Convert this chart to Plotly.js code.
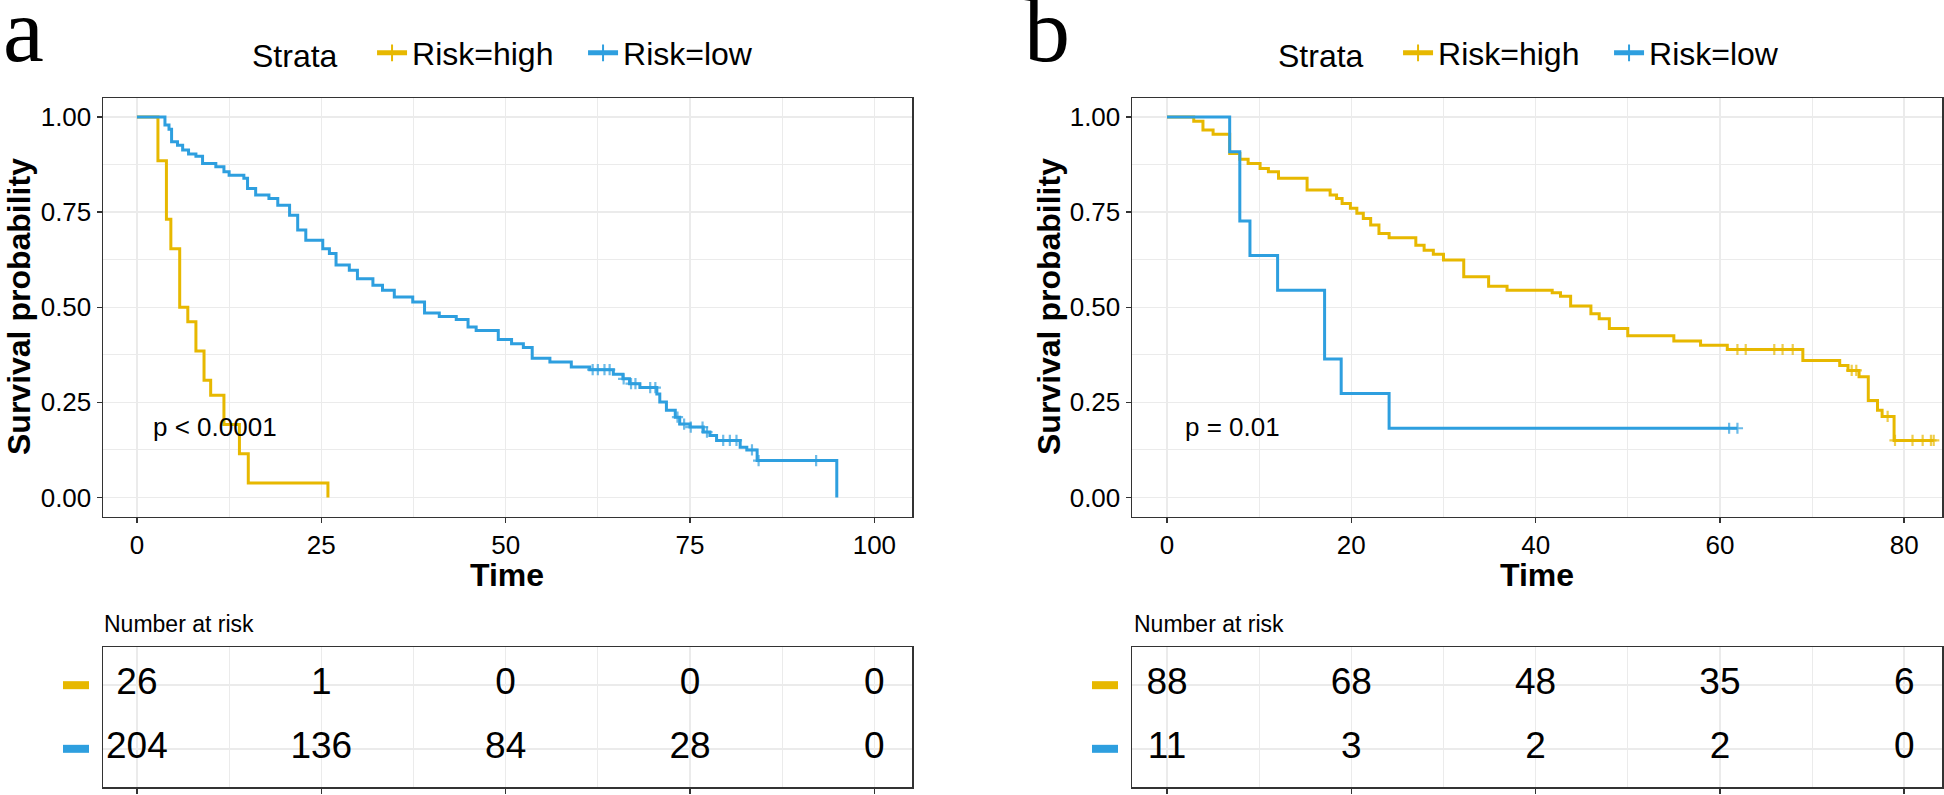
<!DOCTYPE html>
<html><head><meta charset="utf-8">
<script src="https://cdn.plot.ly/plotly-3.0.1.min.js"></script>
<style>html,body{margin:0;padding:0;background:#fff}#chart{width:1944px;height:795px}</style>
</head><body><div id="chart"></div>
<script>
// ---------- Panel a data ----------
const aHighTimes = [2.85, 4.0, 4.6, 5.8, 6.9, 8.0, 9.1, 10.0, 11.8, 13.9, 15.1, 25.9];
const aHighSurv  = [0.885, 0.731, 0.654, 0.500, 0.462, 0.385, 0.308, 0.269, 0.192, 0.115, 0.038, 0.0];
const aHighCens  = [];

const aLowTimes = [3.8, 4.35, 4.7, 5.5, 6.2, 7.0, 8.0, 8.9, 10.7, 11.8, 12.5, 14.5, 15.0, 16.1, 17.9, 19.1, 20.7, 21.8, 22.9, 25.2, 26.1, 27.0, 28.8, 29.9, 32.0, 33.3, 34.9, 37.4, 39.0, 41.0, 43.3, 44.9, 46.0, 49.0, 50.8, 52.4, 53.6, 56.0, 58.9, 61.4, 64.6, 65.9, 66.8, 68.2, 70.5, 70.9, 71.8, 73.0, 73.6, 75.0, 76.8, 77.7, 78.6, 81.8, 82.7, 84.1, 94.9];
const aLowSurv  = [0.979, 0.968, 0.935, 0.926, 0.913, 0.903, 0.897, 0.878, 0.869, 0.856, 0.847, 0.839, 0.812, 0.795, 0.786, 0.768, 0.742, 0.703, 0.676, 0.654, 0.641, 0.611, 0.597, 0.575, 0.558, 0.545, 0.527, 0.514, 0.485, 0.476, 0.468, 0.448, 0.439, 0.415, 0.404, 0.394, 0.366, 0.356, 0.343, 0.336, 0.324, 0.312, 0.299, 0.289, 0.272, 0.251, 0.229, 0.211, 0.193, 0.185, 0.172, 0.163, 0.150, 0.132, 0.125, 0.097, 0.0];
const aLowCens  = [61.8, 62.5, 63.4, 64.1, 66.0, 67.0, 67.6, 69.6, 70.3, 73.3, 74.2, 75.1, 76.7, 77.3, 79.5, 80.4, 81.3, 83.4, 84.3, 92.1];

const aRiskTimes = [0, 25, 50, 75, 100];
const aRiskHigh  = [26, 1, 0, 0, 0];
const aRiskLow   = [204, 136, 84, 28, 0];

// ---------- Panel b data ----------
const bHighTimes = [2.9, 3.9, 5.0, 6.8, 7.9, 8.8, 10.1, 11.0, 12.1, 15.2, 17.7, 18.4, 19.0, 19.9, 20.6, 21.3, 22.1, 23.0, 24.1, 27.0, 27.9, 28.9, 30.0, 32.2, 34.9, 36.9, 41.8, 42.7, 43.8, 46.0, 46.9, 48.0, 50.0, 55.0, 57.9, 60.8, 69.0, 73.0, 73.9, 75.1, 76.1, 77.1, 77.6, 78.9];
const bHighSurv  = [0.989, 0.966, 0.955, 0.904, 0.889, 0.878, 0.865, 0.856, 0.839, 0.808, 0.795, 0.786, 0.773, 0.760, 0.747, 0.733, 0.716, 0.694, 0.683, 0.663, 0.650, 0.639, 0.624, 0.580, 0.555, 0.545, 0.538, 0.529, 0.503, 0.483, 0.470, 0.444, 0.425, 0.411, 0.400, 0.389, 0.360, 0.347, 0.334, 0.317, 0.255, 0.229, 0.213, 0.150];
const bHighCens  = [61.9, 62.8, 65.9, 66.8, 67.9, 74.3, 74.8, 78.2, 79.0, 80.9, 82.0, 82.9, 83.2];

const bLowTimes = [6.8, 7.9, 9.0, 12.0, 17.1, 18.9, 24.1];
const bLowSurv  = [0.909, 0.727, 0.636, 0.545, 0.364, 0.273, 0.182];
const bLowCens  = [61.0, 61.9];

const bRiskTimes = [0, 20, 40, 60, 80];
const bRiskHigh  = [88, 68, 48, 35, 6];
const bRiskLow   = [11, 3, 2, 2, 0];

const strataNames = ['Risk=high', 'Risk=low'];
const COL_HIGH = '#E7B800';
const COL_LOW = '#2E9FDF';

// Build a Kaplan-Meier step path including censor points (shown as "+")
function kmPath(T, S, C) {
  const pts = [{t: 0, s: 1, c: false}];
  T.forEach((t, i) => pts.push({t: t, s: S[i], c: false}));
  C.forEach(c => {
    let s = 1;
    T.forEach((t, i) => { if (t <= c) s = S[i]; });
    pts.push({t: c, s: s, c: true});
  });
  pts.sort((a, b) => a.t - b.t);
  return {x: pts.map(p => p.t), y: pts.map(p => p.s), size: pts.map(p => p.c ? 8 : 0)};
}

function kmTrace(T, S, C, name, color, xa, ya) {
  const p = kmPath(T, S, C);
  return {
    type: 'scatter', mode: 'lines+markers', name: name, showlegend: false,
    x: p.x, y: p.y, xaxis: xa, yaxis: ya,
    line: {shape: 'hv', color: color, width: 3},
    marker: {symbol: 'cross-thin', size: p.size, color: color, line: {color: color, width: 2.2}},
    hoverinfo: 'x+y'
  };
}
// legend entry (no data points of its own)
function legendTrace(name, color, xa, ya, legend) {
  return {
    type: 'scatter', mode: 'lines+markers', name: name, x: [null], y: [null],
    xaxis: xa, yaxis: ya, legend: legend, showlegend: true,
    line: {color: color, width: 3},
    marker: {symbol: 'cross-thin', size: 9, color: color, line: {color: color, width: 2.2}}
  };
}

function riskTrace(times, vals, row, xa, ya) {
  return {
    type: 'scatter', mode: 'text', x: times, y: times.map(() => row),
    text: vals.map(String), xaxis: xa, yaxis: ya, showlegend: false,
    textposition: 'middle center', textfont: {size: 37, color: '#000'},
    cliponaxis: false, hoverinfo: 'skip'
  };
}

const data = [
  kmTrace(aHighTimes, aHighSurv, aHighCens, strataNames[0], COL_HIGH, 'x', 'y'),
  kmTrace(aLowTimes, aLowSurv, aLowCens, strataNames[1], COL_LOW, 'x', 'y'),
  kmTrace(bHighTimes, bHighSurv, bHighCens, strataNames[0], COL_HIGH, 'x2', 'y2'),
  kmTrace(bLowTimes, bLowSurv, bLowCens, strataNames[1], COL_LOW, 'x2', 'y2'),
  legendTrace(strataNames[0], COL_HIGH, 'x', 'y', 'legend'),
  legendTrace(strataNames[1], COL_LOW, 'x', 'y', 'legend'),
  legendTrace(strataNames[0], COL_HIGH, 'x2', 'y2', 'legend2'),
  legendTrace(strataNames[1], COL_LOW, 'x2', 'y2', 'legend2'),
  riskTrace(aRiskTimes, aRiskHigh, 2, 'x3', 'y3'),
  riskTrace(aRiskTimes, aRiskLow, 1, 'x3', 'y3'),
  riskTrace(bRiskTimes, bRiskHigh, 2, 'x4', 'y4'),
  riskTrace(bRiskTimes, bRiskLow, 1, 'x4', 'y4')
];

const W = 1944, H = 795;
const px = v => v / W;
const py = v => 1 - v / H;

const gridC = '#EBEBEB';
const frameC = '#333333';
function xAxis(domain, range, dtick, anchor, labels) {
  return {
    domain: domain, range: range, anchor: anchor, tick0: 0, dtick: dtick,
    showline: true, mirror: true, linecolor: frameC, linewidth: 1.5,
    ticks: 'outside', ticklen: 5, tickwidth: 1.5, tickcolor: frameC,
    showticklabels: labels, tickfont: {size: 26, color: '#000'},
    showgrid: true, gridcolor: gridC, gridwidth: 1.5, zeroline: false,
    minor: {dtick: dtick / 2, showgrid: true, gridcolor: gridC, gridwidth: 1, ticks: ''}
  };
}
function yAxis(domain, anchor) {
  return {
    domain: domain, range: [-0.05, 1.05], anchor: anchor, tick0: 0, dtick: 0.25, tickformat: '.2f',
    showline: true, mirror: true, linecolor: frameC, linewidth: 1.5,
    ticks: 'outside', ticklen: 5, tickwidth: 1.5, tickcolor: frameC,
    tickfont: {size: 26, color: '#000'},
    showgrid: true, gridcolor: gridC, gridwidth: 1.5, zeroline: false,
    minor: {dtick: 0.125, showgrid: true, gridcolor: gridC, gridwidth: 1, ticks: ''}
  };
}
function tableY(domain, anchor) {
  return {
    domain: domain, range: [0.4, 2.6], anchor: anchor, tickvals: [1, 2],
    showticklabels: false, ticks: '',
    showline: true, mirror: true, linecolor: frameC, linewidth: 1.5,
    showgrid: true, gridcolor: gridC, gridwidth: 1.5, zeroline: false
  };
}

const xDomA = [px(103), px(912)];
const xDomB = [px(1132), px(1942)];
const yDomPlot = [py(516.5), py(98)];
const yDomTable = [py(787), py(647)];

const legendCommon = {
  orientation: 'h', yanchor: 'middle', xanchor: 'left', y: py(53),
  font: {size: 32, color: '#000'}, itemwidth: 30, itemsizing: 'constant',
  entrywidth: 166, entrywidthmode: 'pixels', tracegroupgap: 0,
  bgcolor: 'rgba(0,0,0,0)', title: {text: 'Strata   ', side: 'left', font: {size: 32, color: '#000'}}
};

const ann = [];
function addText(text, x, y, size, opts) {
  ann.push(Object.assign({text: text, x: x, y: y, xref: 'paper', yref: 'paper', showarrow: false,
    font: {size: size, color: '#000'}, xanchor: 'center', yanchor: 'middle'}, opts || {}));
}
addText('a', px(23), py(30), 92, {font: {size: 92, color: '#000', family: 'Liberation Serif'}});
addText('b', px(1047), py(30), 92, {font: {size: 92, color: '#000', family: 'Liberation Serif'}});
addText('Survival probability', px(19), py(307), 32, {textangle: -90, font: {size: 32, color: '#000', weight: 700}});
addText('Survival probability', px(1049), py(307), 32, {textangle: -90, font: {size: 32, color: '#000', weight: 700}});
addText('Time', px(507), py(575), 32, {font: {size: 32, color: '#000', weight: 700}});
addText('Time', px(1537), py(575), 32, {font: {size: 32, color: '#000', weight: 700}});
addText('Number at risk', px(102), py(624), 23, {xanchor: 'left'});
addText('Number at risk', px(1132), py(624), 23, {xanchor: 'left'});
ann.push({text: 'p < 0.0001', x: 1.9, y: 0.184, xref: 'x', yref: 'y', xanchor: 'left', yanchor: 'middle',
  showarrow: false, font: {size: 26, color: '#000'}});
ann.push({text: 'p = 0.01', x: 1.7, y: 0.184, xref: 'x2', yref: 'y2', xanchor: 'left', yanchor: 'middle',
  showarrow: false, font: {size: 26, color: '#000'}});

const dash = (x0, x1, yref, yv, color) => ({type: 'line', xref: 'paper', yref: yref,
  x0: px(x0), x1: px(x1), y0: yv, y1: yv, line: {color: color, width: 8}});

const layout = {
  width: W, height: H, margin: {l: 0, r: 0, t: 0, b: 0},
  paper_bgcolor: '#fff', plot_bgcolor: '#fff',
  font: {family: 'Liberation Sans, Arial, sans-serif', color: '#000'},
  xaxis: xAxis(xDomA, [-4.6, 105.1], 25, 'y', true),
  yaxis: yAxis(yDomPlot, 'x'),
  xaxis2: xAxis(xDomB, [-3.8, 84.1], 20, 'y2', true),
  yaxis2: yAxis(yDomPlot, 'x2'),
  xaxis3: xAxis(xDomA, [-4.6, 105.1], 25, 'y3', false),
  yaxis3: tableY(yDomTable, 'x3'),
  xaxis4: xAxis(xDomB, [-3.8, 84.1], 20, 'y4', false),
  yaxis4: tableY(yDomTable, 'x4'),
  legend: Object.assign({x: px(250)}, legendCommon),
  legend2: Object.assign({x: px(1276)}, legendCommon),
  annotations: ann,
  shapes: [
    dash(63, 89, 'y3', 2, COL_HIGH), dash(63, 89, 'y3', 1, COL_LOW),
    dash(1092, 1118, 'y4', 2, COL_HIGH), dash(1092, 1118, 'y4', 1, COL_LOW)
  ],
  showlegend: true
};

Plotly.newPlot('chart', data, layout, {staticPlot: true, displayModeBar: false});
</script>
</body></html>
